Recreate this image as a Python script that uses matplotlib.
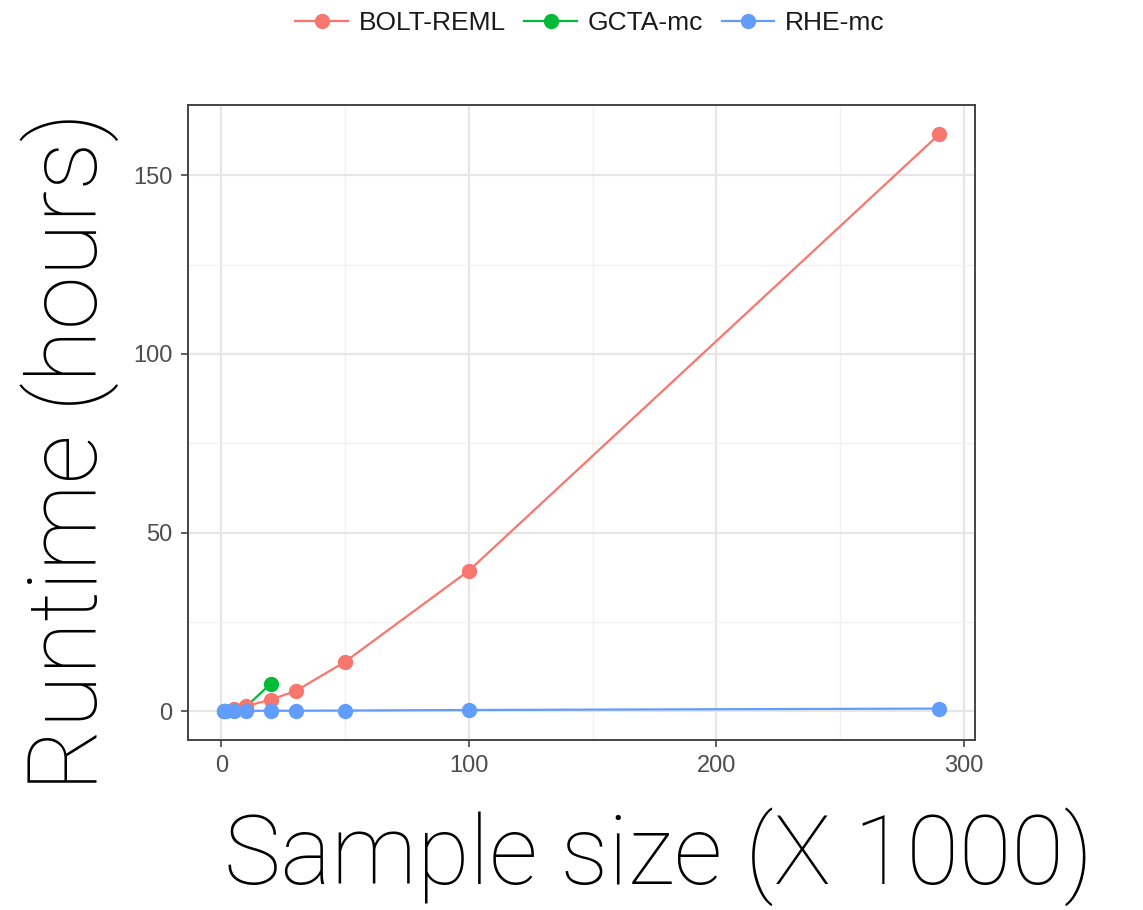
import matplotlib.pyplot as plt
from matplotlib.ticker import MultipleLocator

plt.rcParams['font.family'] = ['Liberation Sans', 'DejaVu Sans']

# sample sizes (x 1000)
bolt_x = [1, 5, 10, 20, 30, 50, 100, 290]
bolt_y = [0.1, 0.6, 1.4, 3.2, 5.6, 13.8, 39.3, 161.5]

gcta_x = [1, 5, 10, 20]
gcta_y = [0.05, 0.4, 1.2, 7.7]

rhe_x = [1, 2, 5, 10, 20, 30, 50, 100, 290]
rhe_y = [0.0, 0.0, 0.0, 0.05, 0.1, 0.1, 0.15, 0.3, 0.7]

series = [
    ("BOLT-REML", bolt_x, bolt_y, "#F8766D", 3),
    ("GCTA-mc", gcta_x, gcta_y, "#00BA38", 2.5),
    ("RHE-mc", rhe_x, rhe_y, "#619CFF", 3.5),
]

fig = plt.figure(figsize=(11.43, 9.10), dpi=100)
ax = fig.add_axes([188 / 1143, 1 - 740 / 910, (975 - 188) / 1143, (740 - 105) / 910])

for name, x, y, c, z in series:
    ax.plot(x, y, color=c, lw=1.6, marker="o", ms=10, label=name, zorder=z)

ax.set_xlim(-13.45, 304.45)
ax.set_ylim(-8.1, 169.7)
ax.xaxis.set_major_locator(MultipleLocator(100))
ax.xaxis.set_minor_locator(MultipleLocator(50))
ax.yaxis.set_major_locator(MultipleLocator(50))
ax.yaxis.set_minor_locator(MultipleLocator(25))
ax.grid(which="major", color="#E6E6E6", lw=1.6)
ax.grid(which="minor", color="#F0F0F0", lw=1.0)
ax.set_axisbelow(True)
for s in ax.spines.values():
    s.set_color("#444444")
    s.set_linewidth(1.4)
ax.tick_params(which="major", length=5, width=1.2, color="#444444",
               labelsize=17, labelcolor="#4D4D4D", pad=6)
ax.tick_params(which="minor", length=0)

big = dict(family=["Roboto", "Liberation Sans"], fontweight="light")
fig.text(658 / 1143, 1 - 884 / 910, "Sample size (X 1000)", fontsize=69,
         ha="center", va="baseline", **big)
fig.text(70 / 1143, 1 - 451 / 910, "Runtime (hours)", fontsize=70,
         rotation=90, ha="center", va="center", **big)

fig.legend(loc="center", bbox_to_anchor=(590 / 1143, 1 - 23 / 910), ncol=3,
           frameon=False, fontsize=19, handlelength=2.0, columnspacing=0.7,
           handletextpad=0.4, labelcolor="#1A1A1A")

fig.savefig("out.png", dpi=100)
